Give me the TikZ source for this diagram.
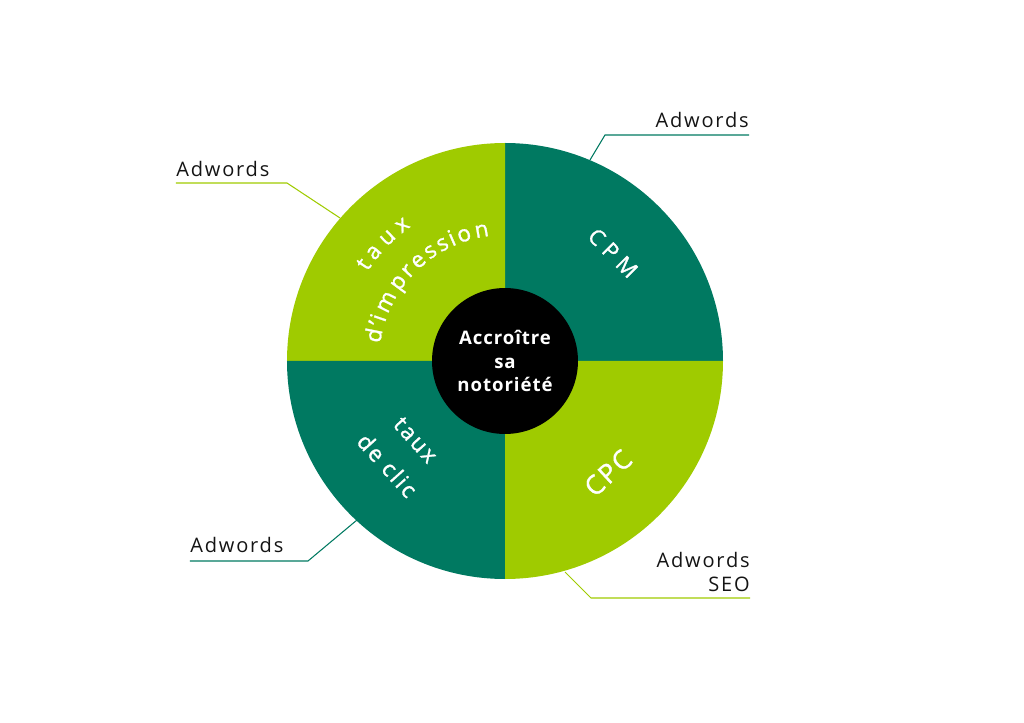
\documentclass[tikz,border=0pt]{standalone}
\usepackage{fontspec}
\setmainfont{Open Sans}
\usetikzlibrary{decorations.text}
\definecolor{darkgreen}{RGB}{0,121,97}
\definecolor{lightgreen}{RGB}{159,203,0}
\definecolor{inkgray}{RGB}{20,20,20}
\newcommand{\impfont}{\fontsize{12.8}{15}\selectfont\addfontfeature{FakeBold=1.2}}
\tikzstyle{callout} = [line width=0.6pt]
\tikzstyle{tag} = [inner sep=0pt, text=inkgray,
    font={\fontsize{11.4}{13.6}\selectfont\addfontfeature{LetterSpace=9}}]
\tikzstyle{onslice} = [text=white, inner sep=0pt]

\begin{document}
\begin{tikzpicture}[x=0.02cm, y=0.02cm]
		\useasboundingbox (-505,-362) rectangle (519,361);
		% the four quarters
		\fill[darkgreen] (0,0) -- (0,218) arc[start angle=90, end angle=0, radius=218] -- cycle;
		\fill[lightgreen] (0,0) -- (-218,0) arc[start angle=180, end angle=90, radius=218] -- cycle;
		\fill[darkgreen] (0,0) -- (0,-218) arc[start angle=270, end angle=180, radius=218] -- cycle;
		\fill[lightgreen] (0,0) -- (218,0) arc[start angle=360, end angle=270, radius=218] -- cycle;
		
		\node [circle, fill=black, minimum size=2.92cm, text=white, align=center,
		    font={\fontsize{10.6}{13.6}\selectfont\bfseries\addfontfeature{LetterSpace=5}}]
		    (goal) at (0,0) {Accroître\\sa\\notoriété};
		
		\node [onslice, rotate=-45, font={\fontsize{12.5}{14}\selectfont\addfontfeature{LetterSpace=28,FakeBold=1.2}}] (cpm) at (108,108) {CPM};
		\node [onslice, rotate=43, font={\fontsize{15}{18}\selectfont\addfontfeature{LetterSpace=8,FakeBold=1.2}}] (cpc) at (103,-112) {CPC};
		\node [onslice, rotate=-48, align=center, font={\fontsize{12.8}{22}\selectfont\addfontfeature{LetterSpace=10,FakeBold=1.2}}] (clic) at (-104,-92) {taux\\de clic};
		
		% curved label
		\path [decorate, decoration={text effects along path, text={taux},
		    text effects/.cd, text along path, fit text to path,
		    characters={text=white, font=\impfont}}]
		    (147:164) arc[start angle=147, end angle=125, radius=164];
		\path [decorate, decoration={text effects along path, text={d'impression},
		    text effects/.cd, text along path, fit text to path,
		    characters={text=white, font=\impfont}}]
		    (172:126) arc[start angle=172, end angle=97, radius=126];
		
		% callouts
		\coordinate (cpmpt) at (85,201);
		\coordinate (k1) at (100,226);
		\node [tag, anchor=base east] (adw1) at (244,233) {Adwords};
		\draw [callout, darkgreen] (cpmpt) -- (k1) -- (k1 -| adw1.east);
		
		\coordinate (imppt) at (-165,143);
		\coordinate (k2) at (-218,178);
		\node [tag, anchor=base west] (adw2) at (-329,184) {Adwords};
		\draw [callout, lightgreen] (imppt) -- (k2) -- (k2 -| adw2.west);
		
		\coordinate (clicpt) at (-148,-159);
		\coordinate (k3) at (-197,-200);
		\node [tag, anchor=base west] (adw3) at (-315,-191) {Adwords};
		\draw [callout, darkgreen] (clicpt) -- (k3) -- (k3 -| adw3.west);
		
		\coordinate (cpcpt) at (60,-211);
		\coordinate (k4) at (86,-237);
		\node [tag, anchor=south east, align=right] (adw4) at (245,-231) {Adwords\\SEO};
		\draw [callout, lightgreen] (cpcpt) -- (k4) -- (k4 -| adw4.east);
	\end{tikzpicture}
\end{document}
